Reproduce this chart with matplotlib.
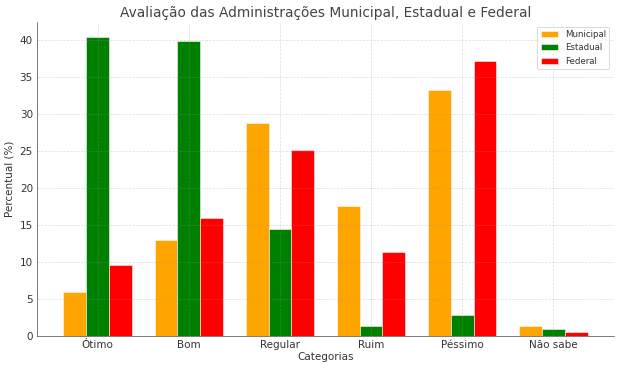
import numpy as np
import matplotlib.pyplot as plt

# --- Data ---
categorias = ["Ótimo", "Bom", "Regular", "Ruim", "Péssimo", "Não sabe"]
municipal = [5.9, 13.0, 28.8, 17.6, 33.2, 1.3]
estadual = [40.4, 39.9, 14.5, 1.4, 2.8, 0.9]
federal = [9.6, 16.0, 25.2, 11.4, 37.2, 0.6]

x = np.arange(len(categorias))
w = 0.25
txt = "#333333"

fig, ax = plt.subplots(figsize=(10, 370 / 62), dpi=62)
ax.bar(x - w, municipal, w, label="Municipal", color="orange", edgecolor="white", linewidth=0.6)
ax.bar(x, estadual, w, label="Estadual", color="green", edgecolor="white", linewidth=0.6)
ax.bar(x + w, federal, w, label="Federal", color="red", edgecolor="white", linewidth=0.6)

ax.set_xticks(x)
ax.set_xticklabels(categorias)
ax.tick_params(axis="both", labelsize=12, labelcolor=txt, length=0, pad=5)
ax.set_xlabel("Categorias", fontsize=12, color=txt, labelpad=2)
ax.set_ylabel("Percentual (%)", fontsize=12, color=txt, labelpad=6)
ax.set_title("Avaliação das Administrações Municipal, Estadual e Federal",
             fontsize=16, color="#444444", pad=6)

ax.grid(True, linestyle="--", linewidth=0.8, color="#999999", alpha=0.35)
for s in ["top", "right"]:
    ax.spines[s].set_visible(False)
for s in ["left", "bottom"]:
    ax.spines[s].set_color("#444444")
ax.legend(fontsize=10, loc="upper right", labelcolor=txt)

plt.subplots_adjust(left=0.06, right=0.99, top=0.94, bottom=0.092)
plt.savefig("out.png")
